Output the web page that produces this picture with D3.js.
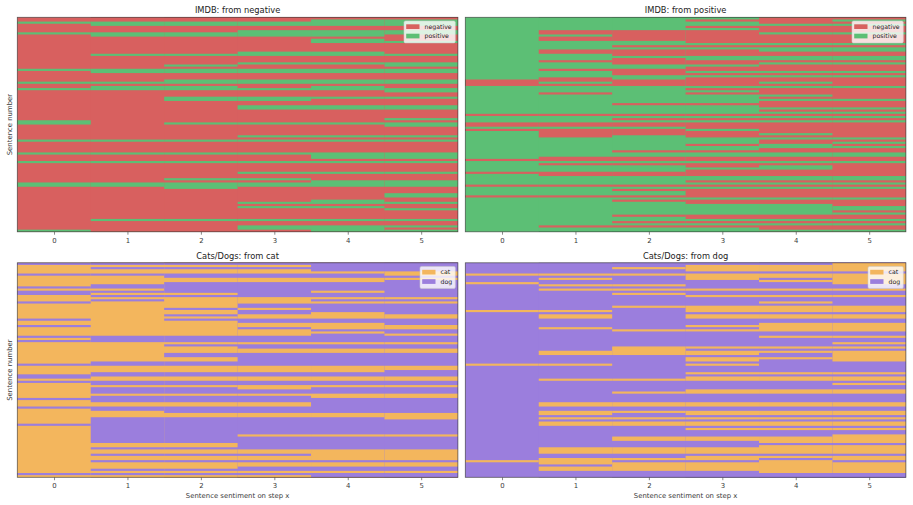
<!DOCTYPE html>
<html>
<head>
<meta charset="utf-8">
<script src="https://cdn.jsdelivr.net/npm/d3@7/dist/d3.min.js"></script>
<style>
  html, body { margin: 0; padding: 0; background: #fff; }
  svg { display: block; font-family: "DejaVu Sans", sans-serif; }
</style>
</head>
<body>
<svg id="chart" width="913" height="505"></svg>
<script>
// Predicted class of every sentence after each edit step.
// Each column is [classIndex, rows]: the listed rows hold classIndex, the rest hold the other class.
const steps = [0, 1, 2, 3, 4, 5];
const sentenceCount = 100;

const imdbLabels = ["negative", "positive"];
const petLabels = ["cat", "dog"];
const imdbColors = ["#d8605f", "#5cbf75"];
const petColors = ["#f3b65d", "#9b7edd"];

const imdbFromNegative = [
  [1, [2,7,24,30,33,48,49,57,63,67,77,78,99]],
  [1, [2,3,7,8,17,24,25,30,32,33,57,63,67,77,78,94]],
  [1, [2,3,7,8,17,22,24,25,29,30,32,33,37,38,49,57,63,67,75,77,78,79,94]],
  [1, [2,3,6,7,8,16,17,21,24,25,29,30,33,37,38,41,42,49,55,57,63,67,72,75,77,78,86,88,94,97,98]],
  [1, [1,2,3,6,7,8,10,11,16,17,21,24,25,29,30,32,33,37,41,42,49,55,57,63,64,65,67,72,76,77,78,85,86,88,94,97,98,99]],
  [1, [1,2,3,6,7,11,17,21,22,24,25,29,30,33,34,37,41,42,47,49,50,55,57,63,64,65,67,72,76,77,78,82,83,86,89,94,97,99]]
];

const imdbFromPositive = [
  [0, [29,30,31,45,49,50,52,66,72,78,83]],
  [0, [6,7,9,10,15,16,20,24,28,29,31,35,45,49,50,52,53,54,55,65,66,68,72,73,78,83,97]],
  [0, [6,7,8,9,10,13,15,16,17,19,20,21,24,25,26,29,30,31,40,45,47,49,50,52,53,54,62,65,66,68,72,73,78,80,83,85,92,95,97]],
  [0, [1,4,6,7,8,9,10,11,13,15,16,17,20,21,23,24,26,28,29,30,31,33,35,40,45,47,49,50,51,53,54,55,59,62,65,66,68,69,71,72,73,76,78,80,81,82,83,85,86,92,93,95,97]],
  [1, [3,7,12,14,15,18,19,21,25,27,30,32,36,38,42,44,46,48,54,56,59,60,63,64,67,69,70,74,75,77,79,84,87,88,89,90,91,94,96,99]],
  [1, [1,3,7,12,14,15,18,19,21,25,27,32,38,42,44,46,48,56,58,60,63,64,67,74,75,77,79,84,88,89,91,94,96,99]]
];

const petsFromCat = [
  [1, [0,5,11,13,14,18,26,29,34,36,47,52,53,55,63,67,75,98]],
  [1, [0,2,5,10,11,13,15,17,34,35,36,46,47,51,52,55,56,58,59,60,62,63,64,67,68,72,73,74,75,76,77,78,79,80,81,82,83,86,89,92,96,98]],
  [1, [0,2,5,6,9,10,11,12,13,15,21,24,26,34,35,36,38,42,43,46,47,51,52,55,56,58,59,60,62,63,64,67,68,69,72,73,74,75,76,77,78,79,80,81,82,83,86,89,92,96,98]],
  [0, [1,3,4,7,8,16,17,18,21,24,25,28,29,31,32,33,37,40,41,48,49,50,53,54,57,58,61,65,66,70,71,80,87,88,90,91,93,94,97,99]],
  [0, [4,7,8,13,16,18,23,24,25,28,29,30,32,37,40,41,48,49,50,53,54,57,61,62,70,71,80,87,88,89,90,91,93,94,97]],
  [0, [4,5,7,16,18,24,25,29,30,33,37,40,41,48,49,53,54,57,61,62,70,71,72,80,87,88,89,90,91,93,94,97]]
];

const petsFromDog = [
  [0, [5,9,22,47,92]],
  [0, [5,7,10,12,22,24,25,30,41,42,47,54,65,66,69,70,72,74,75,86,87,88,91,92,93,95,96]],
  [0, [2,5,10,12,14,20,31,39,40,41,42,54,60,65,66,69,72,74,75,81,82,86,87,88,91,93,94,95,96]],
  [0, [1,2,3,5,6,7,12,15,20,21,22,24,25,29,31,39,41,42,44,45,47,51,53,54,59,60,65,66,69,70,72,74,75,77,81,82,86,87,88,90,91,93,94,95,96]],
  [0, [1,2,3,5,6,8,12,15,18,20,21,22,24,25,28,29,30,31,34,39,41,44,51,53,54,59,60,65,66,69,70,72,74,75,77,81,82,83,85,86,87,88,90,92,93,94,95,96,97]],
  [0, [0,1,2,3,5,6,7,8,9,12,15,20,21,22,24,25,28,29,30,31,34,37,39,41,42,43,44,45,51,53,54,56,59,60,65,66,69,70,72,74,75,77,80,81,82,83,85,86,87,88,90,91,93,94,95,96,97]]
];

const panels = [
  { title: "IMDB: from negative", columns: imdbFromNegative, labels: imdbLabels, colors: imdbColors,
    left: 17.3, top: 17.3, yTitle: true, xTitle: false, legendWidth: 51.3 },
  { title: "IMDB: from positive", columns: imdbFromPositive, labels: imdbLabels, colors: imdbColors,
    left: 465.3, top: 17.3, yTitle: false, xTitle: false, legendWidth: 51.3 },
  { title: "Cats/Dogs: from cat", columns: petsFromCat, labels: petLabels, colors: petColors,
    left: 17.3, top: 262.8, yTitle: true, xTitle: true, legendWidth: 35.3 },
  { title: "Cats/Dogs: from dog", columns: petsFromDog, labels: petLabels, colors: petColors,
    left: 465.3, top: 262.8, yTitle: false, xTitle: true, legendWidth: 35.3 }
];

const plotWidth = 440.6;
const plotHeight = 214.5;
const inkColor = "#3a3a3a";

// Contiguous row ranges, so that neighbouring sentences draw without seams.
function toRuns(rows) {
  const runs = [];
  rows.forEach(r => {
    const last = runs[runs.length - 1];
    if (last && last.end === r) last.end = r + 1;
    else runs.push({ start: r, end: r + 1 });
  });
  return runs;
}

const svg = d3.select("#chart");

panels.forEach(panel => {
  const x = d3.scaleLinear().domain([-0.5, 5.5]).range([0, plotWidth]);
  const y = d3.scaleLinear().domain([0, sentenceCount]).range([0, plotHeight]);
  const g = svg.append("g").attr("transform", `translate(${panel.left},${panel.top})`);

  // Each column runs to the right edge of the plot; the next one paints over it,
  // which leaves no hairline where two columns meet.
  const columnWidth = step => plotWidth - x(step - 0.5);

  const cols = g.selectAll("g.step").data(steps).join("g").attr("class", "step");
  cols.each(function (step) {
    const [classIndex, rows] = panel.columns[step];
    const col = d3.select(this);
    // Base fill carries the class that is not listed for this column.
    col.append("rect")
      .attr("x", x(step - 0.5)).attr("y", 0)
      .attr("width", columnWidth(step)).attr("height", plotHeight)
      .attr("fill", panel.colors[1 - classIndex]);
    col.selectAll("rect.run").data(toRuns(rows)).join("rect")
      .attr("class", "run")
      .attr("x", x(step - 0.5))
      .attr("y", d => y(d.start))
      .attr("width", columnWidth(step))
      .attr("height", d => y(d.end) - y(d.start))
      .attr("fill", panel.colors[classIndex]);
  });

  // Frame
  g.append("rect").attr("width", plotWidth).attr("height", plotHeight)
    .attr("fill", "none").attr("stroke", "#333").attr("stroke-opacity", 0.75).attr("stroke-width", 0.8);

  // Step axis
  const axis = d3.axisBottom(x).tickValues(steps).tickFormat(d3.format("d")).tickSize(2.9).tickPadding(3);
  const axisG = g.append("g").attr("transform", `translate(0,${plotHeight})`).call(axis);
  axisG.select(".domain").remove();
  axisG.selectAll("line").attr("stroke", "#555").attr("stroke-width", 0.7);
  axisG.selectAll("text").attr("font-size", 6.9).attr("fill", inkColor).attr("font-family", "DejaVu Sans");

  g.append("text")
    .attr("x", plotWidth / 2).attr("y", -4)
    .attr("text-anchor", "middle").attr("font-size", 8.3).attr("fill", "#222")
    .text(panel.title);

  if (panel.xTitle) {
    g.append("text")
      .attr("x", plotWidth / 2).attr("y", plotHeight + 20.5)
      .attr("text-anchor", "middle").attr("font-size", 6.9).attr("fill", inkColor)
      .text("Sentence sentiment on step x");
  }
  if (panel.yTitle) {
    g.append("text")
      .attr("transform", `translate(-5.5,${plotHeight / 2}) rotate(-90)`)
      .attr("text-anchor", "middle").attr("font-size", 6.9).attr("fill", inkColor)
      .text("Sentence number");
  }

  // Legend in the upper right corner
  const legend = g.append("g")
    .attr("transform", `translate(${plotWidth - 2.6 - panel.legendWidth},3.6)`);
  legend.append("rect")
    .attr("width", panel.legendWidth).attr("height", 22).attr("rx", 1.5)
    .attr("fill", "#fff").attr("fill-opacity", 0.8)
    .attr("stroke", "#ccc").attr("stroke-opacity", 0.8).attr("stroke-width", 0.7);
  panel.labels.forEach((label, i) => {
    legend.append("rect")
      .attr("x", 2.2).attr("y", 3.4 + i * 9.4)
      .attr("width", 13.3).attr("height", 4.7)
      .attr("fill", panel.colors[i]);
    legend.append("text")
      .attr("x", 20.6).attr("y", 8.1 + i * 9.4)
      .attr("font-size", 6.2).attr("fill", "#222")
      .text(label);
  });
});
</script>
</body>
</html>
